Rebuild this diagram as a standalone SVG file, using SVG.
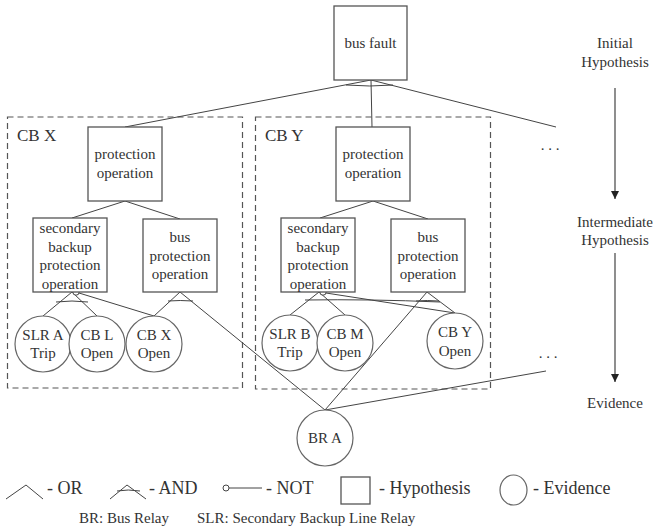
<svg xmlns="http://www.w3.org/2000/svg" width="653" height="531" viewBox="0 0 653 531">
<style>
  .box{fill:#fff;stroke:#555;stroke-width:1.3}
  .ev{fill:#fff;stroke:#666;stroke-width:1.2}
  .grp{fill:none;stroke:#555;stroke-width:1.2;stroke-dasharray:6,4}
  .ln{fill:none;stroke:#444;stroke-width:1}
  .ax{fill:none;stroke:#444;stroke-width:1.2}
  text{font-family:"Liberation Serif","Times New Roman",serif;fill:#333;font-size:15px;text-anchor:middle}
  .lbl{font-size:17px;text-anchor:start}
  .leg{font-size:18px;text-anchor:start}
  .note{font-size:15px;text-anchor:start}
</style>
<defs>
  <marker id="arr" viewBox="0 0 10 10" refX="10" refY="5" markerWidth="8" markerHeight="11" markerUnits="userSpaceOnUse" orient="auto">
    <path d="M0,0 L10,5 L0,10 z" fill="#222"/>
  </marker>
</defs>

<g id="group-cbx">
  <rect class="grp" x="7.5" y="117" width="235" height="271"/>
  <text class="lbl" x="17" y="141">CB X</text>
</g>
<g id="group-cby">
  <rect class="grp" x="255.5" y="117" width="235" height="272"/>
  <text class="lbl" x="265" y="141">CB Y</text>
</g>

<g id="connectors">
  <!-- bus fault AND -->
  <line class="ln" x1="371" y1="80" x2="125" y2="127"/>
  <line class="ln" x1="371" y1="80" x2="372" y2="127"/>
  <line class="ln" x1="371" y1="80" x2="556" y2="127"/>
  <path class="ln" d="M346 85 Q370 87 393 85"/>
  <!-- CB X protection OR -->
  <line class="ln" x1="125" y1="201" x2="72" y2="218"/>
  <line class="ln" x1="125" y1="201" x2="180" y2="219"/>
  <!-- CB Y protection OR -->
  <line class="ln" x1="373" y1="201" x2="320" y2="218"/>
  <line class="ln" x1="373" y1="201" x2="428" y2="219"/>
  <!-- CB X secondary backup AND + NOT -->
  <line class="ln" x1="72" y1="292" x2="43" y2="316"/>
  <line class="ln" x1="72" y1="292" x2="97" y2="316"/>
  <path class="ln" d="M56 302 Q72 300 88 302"/>
  <line class="ln" x1="79" y1="293" x2="154" y2="316"/>
  <circle cx="76" cy="292" r="3.2" fill="#fff" stroke="#444" stroke-width="1"/>
  <!-- CB X bus protection AND -->
  <line class="ln" x1="180" y1="292" x2="154" y2="316"/>
  <line class="ln" x1="180" y1="292" x2="325" y2="410"/>
  <path class="ln" d="M168 301 Q180 300 193 301"/>
  <!-- CB Y secondary backup AND + NOT -->
  <line class="ln" x1="319" y1="292" x2="290" y2="315"/>
  <line class="ln" x1="319" y1="292" x2="345" y2="315"/>
  <path class="ln" d="M305 300 Q370 299 440 302"/>
  <line class="ln" x1="326" y1="293" x2="455" y2="313"/>
  <circle cx="323" cy="292" r="3.2" fill="#fff" stroke="#444" stroke-width="1"/>
  <!-- CB Y bus protection AND -->
  <line class="ln" x1="427" y1="292" x2="455" y2="313"/>
  <line class="ln" x1="427" y1="292" x2="325" y2="410"/>
  <path class="ln" d="M416 301 Q427 300 439 301"/>
  <!-- BR A to others -->
  <line class="ln" x1="325" y1="410" x2="546" y2="371"/>
  <!-- level axis -->
  <line class="ax" x1="615" y1="88" x2="615" y2="199" marker-end="url(#arr)"/>
  <line class="ax" x1="615" y1="253" x2="615" y2="382" marker-end="url(#arr)"/>
</g>

<g id="bus-fault">
  <rect class="box" x="334" y="6" width="73" height="74"/>
  <text x="370.5" y="48">bus fault</text>
</g>

<g id="protection-x">
  <rect class="box" x="88" y="127" width="74" height="74"/>
  <text x="125" y="158.5">protection</text>
  <text x="125" y="177.5">operation</text>
</g>
<g id="secondary-x">
  <rect class="box" x="33" y="218" width="74" height="74"/>
  <text x="70" y="233">secondary</text>
  <text x="70" y="251.5">backup</text>
  <text x="70" y="270">protection</text>
  <text x="70" y="288.5">operation</text>
</g>
<g id="busprot-x">
  <rect class="box" x="143" y="219" width="74" height="73"/>
  <text x="180" y="242">bus</text>
  <text x="180" y="260.5">protection</text>
  <text x="180" y="279">operation</text>
</g>

<g id="protection-y">
  <rect class="box" x="336" y="127" width="74" height="74"/>
  <text x="373" y="158.5">protection</text>
  <text x="373" y="177.5">operation</text>
</g>
<g id="secondary-y">
  <rect class="box" x="281" y="218" width="74" height="74"/>
  <text x="318" y="233">secondary</text>
  <text x="318" y="251.5">backup</text>
  <text x="318" y="270">protection</text>
  <text x="318" y="288.5">operation</text>
</g>
<g id="busprot-y">
  <rect class="box" x="391" y="219" width="74" height="73"/>
  <text x="428" y="242">bus</text>
  <text x="428" y="260.5">protection</text>
  <text x="428" y="279">operation</text>
</g>

<g id="slr-a">
  <circle class="ev" cx="43" cy="344" r="28"/>
  <text x="43" y="340">SLR A</text>
  <text x="43" y="358">Trip</text>
</g>
<g id="cb-l">
  <circle class="ev" cx="97" cy="344" r="28"/>
  <text x="97" y="340">CB L</text>
  <text x="97" y="358">Open</text>
</g>
<g id="cb-x">
  <circle class="ev" cx="154" cy="344" r="28"/>
  <text x="154" y="340">CB X</text>
  <text x="154" y="358">Open</text>
</g>
<g id="slr-b">
  <circle class="ev" cx="290" cy="343" r="28"/>
  <text x="290" y="339">SLR B</text>
  <text x="290" y="357">Trip</text>
</g>
<g id="cb-m">
  <circle class="ev" cx="345" cy="343" r="28"/>
  <text x="345" y="339">CB M</text>
  <text x="345" y="357">Open</text>
</g>
<g id="cb-y">
  <circle class="ev" cx="455" cy="341" r="28"/>
  <text x="455" y="337">CB Y</text>
  <text x="455" y="356">Open</text>
</g>
<g id="br-a">
  <circle class="ev" cx="325" cy="438" r="28"/>
  <text x="325" y="443">BR A</text>
</g>

<g id="ellipses">
  <text x="550" y="150">. . .</text>
  <text x="548" y="358">. . .</text>
</g>

<g id="levels">
  <text x="615" y="48">Initial</text>
  <text x="615" y="67">Hypothesis</text>
  <text x="615" y="227">Intermediate</text>
  <text x="615" y="245">Hypothesis</text>
  <text x="615" y="408">Evidence</text>
</g>

<g id="legend">
  <polyline class="ln" points="6,499 26,485 43,499"/>
  <text class="leg" x="47" y="494">- OR</text>
  <polyline class="ln" points="110,499 127,485 146,499"/>
  <path class="ln" d="M117 491 Q128 489 140 491"/>
  <text class="leg" x="149" y="494">- AND</text>
  <circle cx="226" cy="488" r="3" fill="#fff" stroke="#444" stroke-width="1"/>
  <line class="ln" x1="229" y1="488" x2="262" y2="488"/>
  <text class="leg" x="266" y="494">- NOT</text>
  <rect class="box" x="341" y="477" width="29" height="27"/>
  <text class="leg" x="379" y="494">- Hypothesis</text>
  <ellipse class="ev" cx="513.5" cy="490" rx="13.5" ry="15"/>
  <text class="leg" x="533" y="494">- Evidence</text>
  <text class="note" x="79" y="523">BR: Bus Relay</text>
  <text class="note" x="197" y="523">SLR: Secondary Backup Line Relay</text>
</g>
</svg>
